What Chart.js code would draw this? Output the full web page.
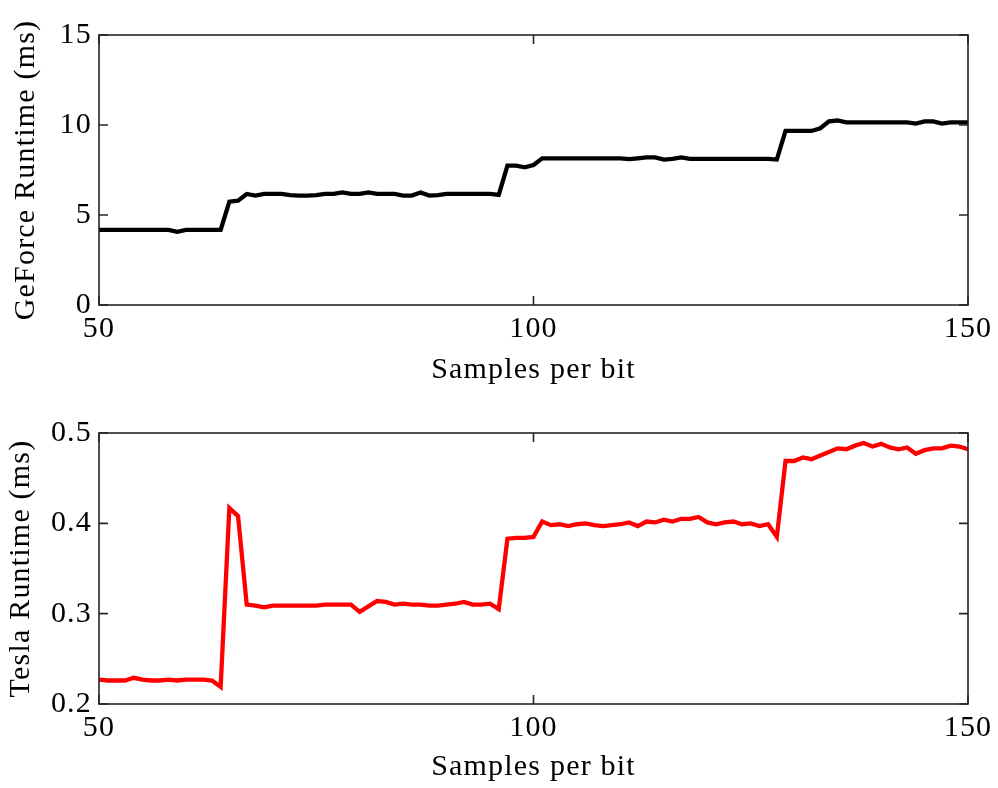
<!DOCTYPE html>
<html>
<head>
<meta charset="utf-8">
<script src="https://cdn.jsdelivr.net/npm/chart.js@4/dist/chart.umd.min.js"></script>
<style>
  html, body { margin: 0; padding: 0; background: #fff; }
  #wrap { position: relative; width: 998px; height: 788px; }
  .box { position: absolute; left: 0; width: 998px; height: 394px; }
  #b1 { top: 0; }
  #b2 { top: 394px; }
</style>
</head>
<body>
<div id="wrap">
  <div class="box" id="b1"><canvas id="c1" width="998" height="394"></canvas></div>
  <div class="box" id="b2"><canvas id="c2" width="998" height="394"></canvas></div>
</div>
<script>
// Samples per bit (x values)
const samplesPerBit = [
  50, 51, 52, 53, 54, 55, 56, 57, 58, 59,
  60, 61, 62, 63, 64, 65, 66, 67, 68, 69,
  70, 71, 72, 73, 74, 75, 76, 77, 78, 79,
  80, 81, 82, 83, 84, 85, 86, 87, 88, 89,
  90, 91, 92, 93, 94, 95, 96, 97, 98, 99,
  100, 101, 102, 103, 104, 105, 106, 107, 108, 109,
  110, 111, 112, 113, 114, 115, 116, 117, 118, 119,
  120, 121, 122, 123, 124, 125, 126, 127, 128, 129,
  130, 131, 132, 133, 134, 135, 136, 137, 138, 139,
  140, 141, 142, 143, 144, 145, 146, 147, 148, 149,
  150
];

// GeForce runtime (ms)
const geforceRuntime = [
  4.17, 4.17, 4.17, 4.17, 4.17, 4.17, 4.17, 4.17, 4.17, 4.07,
  4.17, 4.17, 4.17, 4.17, 4.17, 5.74, 5.80, 6.17, 6.08, 6.17,
  6.17, 6.17, 6.10, 6.08, 6.08, 6.10, 6.17, 6.17, 6.25, 6.17,
  6.17, 6.25, 6.17, 6.17, 6.17, 6.08, 6.08, 6.25, 6.08, 6.10,
  6.17, 6.17, 6.17, 6.17, 6.17, 6.17, 6.12, 7.74, 7.74, 7.65,
  7.78, 8.15, 8.15, 8.15, 8.15, 8.15, 8.15, 8.15, 8.15, 8.15,
  8.15, 8.10, 8.15, 8.20, 8.20, 8.08, 8.12, 8.20, 8.12, 8.12,
  8.12, 8.12, 8.12, 8.12, 8.12, 8.12, 8.12, 8.12, 8.08, 9.67,
  9.67, 9.67, 9.67, 9.82, 10.20, 10.25, 10.15, 10.15, 10.15, 10.15,
  10.15, 10.15, 10.15, 10.15, 10.08, 10.20, 10.20, 10.08, 10.15, 10.15,
  10.15
];

// Tesla runtime (ms)
const teslaRuntime = [
  0.227, 0.226, 0.226, 0.226, 0.229, 0.227, 0.226, 0.226, 0.227, 0.226,
  0.227, 0.227, 0.227, 0.226, 0.219, 0.417, 0.408, 0.310, 0.309, 0.307,
  0.309, 0.309, 0.309, 0.309, 0.309, 0.309, 0.310, 0.310, 0.310, 0.310,
  0.302, 0.308, 0.314, 0.313, 0.310, 0.311, 0.310, 0.310, 0.309, 0.309,
  0.310, 0.311, 0.313, 0.310, 0.310, 0.311, 0.305, 0.383, 0.384, 0.384,
  0.385, 0.402, 0.398, 0.399, 0.397, 0.399, 0.400, 0.398, 0.397, 0.398,
  0.399, 0.401, 0.397, 0.402, 0.401, 0.404, 0.402, 0.405, 0.405, 0.407,
  0.401, 0.399, 0.401, 0.402, 0.399, 0.400, 0.397, 0.399, 0.385, 0.469,
  0.469, 0.473, 0.471, 0.475, 0.479, 0.483, 0.482, 0.486, 0.489, 0.485,
  0.488, 0.484, 0.482, 0.484, 0.477, 0.481, 0.483, 0.483, 0.486, 0.485,
  0.482
];

const xTicks = [50, 100, 150];
const geforceTicks = [0, 5, 10, 15];
const teslaTicks = [0.2, 0.3, 0.4, 0.5];

const FONT = "'Liberation Serif', 'Times New Roman', serif";

const boxTicks = {
  id: 'boxTicks',
  beforeDraw(chart) {
    chart.ctx.letterSpacing = '1.2px';
  },
  afterDraw(chart) {
    const { ctx, chartArea: { left, right, top, bottom }, scales: { x, y } } = chart;
    ctx.save();
    ctx.strokeStyle = '#262626';
    ctx.lineWidth = 1.6;
    ctx.strokeRect(left, top, right - left, bottom - top);
    const L = 9;
    ctx.beginPath();
    x.ticks.forEach(t => {
      const px = x.getPixelForValue(t.value);
      ctx.moveTo(px, bottom); ctx.lineTo(px, bottom - L);
      ctx.moveTo(px, top); ctx.lineTo(px, top + L);
    });
    y.ticks.forEach(t => {
      const py = y.getPixelForValue(t.value);
      ctx.moveTo(left, py); ctx.lineTo(left + L, py);
      ctx.moveTo(right, py); ctx.lineTo(right - L, py);
    });
    ctx.stroke();
    ctx.restore();
  }
};

function makeChart(id, values, color, yTitle, yTickVals, decimals, layout) {
  const pts = samplesPerBit.map((s, i) => ({ x: s, y: values[i] }));
  return new Chart(document.getElementById(id), {
    type: 'line',
    data: {
      datasets: [{
        data: pts,
        borderColor: color,
        backgroundColor: color,
        borderWidth: 4.3,
        pointRadius: 0,
        tension: 0,
        fill: false
      }]
    },
    options: {
      responsive: false,
      animation: false,
      events: [],
      layout: { padding: { top: layout.top, right: 30, bottom: 0, left: 0 } },
      plugins: { legend: { display: false }, tooltip: { enabled: false } },
      scales: {
        x: {
          type: 'linear',
          min: xTicks[0],
          max: xTicks[xTicks.length - 1],
          afterBuildTicks(scale) { scale.ticks = xTicks.map(v => ({ value: v })); },
          afterFit(scale) { scale.height = layout.xh; },
          grid: { display: false, drawTicks: false },
          border: { display: false },
          ticks: {
            color: '#000',
            padding: 6,
            maxRotation: 0,
            font: { family: FONT, size: 30 },
            callback: v => String(v)
          },
          title: {
            display: true,
            text: 'Samples per bit',
            color: '#000',
            font: { family: FONT, size: 30 },
            padding: { top: 0, bottom: layout.titlePad }
          }
        },
        y: {
          type: 'linear',
          min: yTickVals[0],
          max: yTickVals[yTickVals.length - 1],
          afterBuildTicks(scale) { scale.ticks = yTickVals.map(v => ({ value: v })); },
          afterFit(scale) { scale.width = 99; },
          grid: { display: false, drawTicks: false },
          border: { display: false },
          ticks: {
            color: '#000',
            padding: 7,
            font: { family: FONT, size: 30 },
            callback: v => Number(v).toFixed(decimals)
          },
          title: {
            display: true,
            text: yTitle,
            color: '#000',
            font: { family: FONT, size: 30 },
            padding: { top: layout.yTitlePad, bottom: 0 }
          }
        }
      }
    },
    plugins: [boxTicks]
  });
}

makeChart('c1', geforceRuntime, '#000000', 'GeForce Runtime (ms)', geforceTicks, 0,
  { top: 35, xh: 89, titlePad: 6, yTitlePad: 8 });
makeChart('c2', teslaRuntime, '#ff0000', 'Tesla Runtime (ms)', teslaTicks, 1,
  { top: 39, xh: 84, titlePad: 3, yTitlePad: 3 });
</script>
</body>
</html>
